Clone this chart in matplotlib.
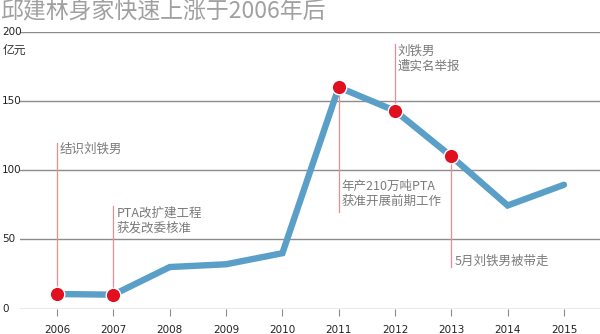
import matplotlib.pyplot as plt
from matplotlib import font_manager

plt.rcParams['font.family'] = ['Noto Sans CJK SC', 'DejaVu Sans']

years = [2006, 2007, 2008, 2009, 2010, 2011, 2012, 2013, 2014, 2015]
wealth = [10.5, 10, 30, 32, 40, 160, 143, 110, 74.5, 89.5]
y_ticks = [0, 50, 100, 150, 200]

# events: year, label, line from (y0) to (y1), text y
event_years = [2006, 2007, 2011, 2012, 2013]
event_labels = ['结识刘铁男', 'PTA改扩建工程\n获发改委核准', '年产210万吨PTA\n获准开展前期工作',
                '刘铁男\n遭实名举报', '5月刘铁男被带走']
event_line_top = [120, 74, 160, 191, 110]
event_line_bottom = [10.5, 10, 70, 143, 30]
event_text_y = [120, 74, 93, 191, 39]

names = {f.name for f in font_manager.fontManager.ttflist}
num_font = ['Liberation Sans Narrow'] if 'Liberation Sans Narrow' in names else ['DejaVu Sans']

grey = '#8c8c8c'
text_grey = '#7a7a7a'

fig = plt.figure(figsize=(6, 3.34), dpi=100)
ax = fig.add_axes([0.0333, 0.0763, 0.9667, 0.828])
ax.set_xlim(2005.34, 2015.64)
ax.set_ylim(0, 200)

for t in y_ticks:
    ax.axhline(t, color=grey, lw=1.0, zorder=1)

for s in ax.spines.values():
    s.set_visible(False)

for yr, lab, y0, y1, ty in zip(event_years, event_labels, event_line_bottom,
                               event_line_top, event_text_y):
    ax.plot([yr, yr], [y0, y1], color='#f08a8f', lw=0.9, zorder=2)
    ax.text(yr + 0.05, ty, lab, fontsize=9, color=text_grey, va='top', ha='left',
            linespacing=1.2, zorder=5)

ax.plot(years, wealth, color='#5a9fc8', lw=4.6, solid_capstyle='round',
        solid_joinstyle='miter', zorder=3)

dot_vals = [wealth[years.index(y)] for y in event_years]
ax.scatter(event_years, dot_vals, s=110, color='#e0101e', edgecolor='white',
           linewidth=1.0, zorder=4)

ax.set_yticks([])
for t in y_ticks:
    ax.text(-0.031, t, str(t), transform=ax.get_yaxis_transform(), fontsize=7.5,
            family=num_font, color='#222222', ha='left', va='center')

ax.set_xticks(years)
ax.set_xticklabels([str(y) for y in years], fontsize=7.5, family=num_font, color='#222222')
ax.tick_params(axis='x', length=5, color=grey, width=0.8, pad=7)

fig.text(0.004, 0.848, '亿元', fontsize=8.5, color='#333333', va='center', ha='left')
fig.text(0.0, 0.998, '邱建林身家快速上涨于2006年后', fontsize=16.5, color='#a0a0a0',
         va='top', ha='left')

fig.savefig('out.png', dpi=100)
